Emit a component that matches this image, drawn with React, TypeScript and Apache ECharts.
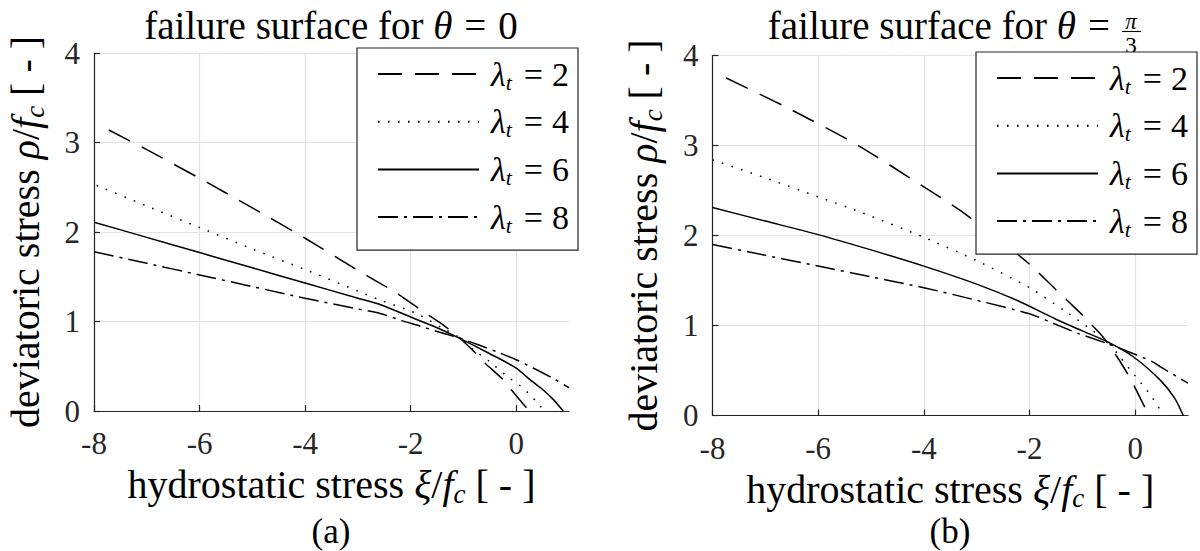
import React, { useEffect, useRef } from "react";
import * as echarts from "echarts";

// ---------- data ----------
const legendNames = ["λt = 2", "λt = 4", "λt = 6", "λt = 8"];
const xTickMin = -8;
const xTickMax = 1;
const yTickMin = 0;
const yTickMax = 4;

// (a) theta = 0
const a_l2: [number, number][] = [[-7.72, 3.14], [-7, 2.92], [-6, 2.6], [-5, 2.27], [-4, 1.93], [-3, 1.57], [-2.3, 1.33], [-1.76, 1.11], [-1.38, 0.96], [-1.1, 0.83], [-0.81, 0.67], [-0.6, 0.54], [-0.25, 0.35], [-0.07, 0.22], [0.1, 0.1], [0.25, 0]];
const a_l4: [number, number][] = [[-7.95, 2.52], [-7, 2.29], [-6, 2.05], [-5, 1.81], [-4, 1.58], [-3, 1.34], [-2.58, 1.24], [-1.89, 1.09], [-1.41, 0.93], [-1.1, 0.83], [-0.8, 0.68], [-0.5, 0.55], [-0.2, 0.4], [0.1, 0.27], [0.26, 0.18], [0.39, 0.1], [0.53, 0]];
const a_l6: [number, number][] = [[-8, 2.11], [-7, 1.94], [-6, 1.77], [-5, 1.6], [-4, 1.43], [-3, 1.26], [-2.58, 1.19], [-2, 1.05], [-1.5, 0.93], [-1.1, 0.82], [-0.5, 0.64], [0, 0.48], [0.26, 0.35], [0.5, 0.24], [0.7, 0.13], [0.89, 0]];
const a_l8: [number, number][] = [[-8, 1.78], [-7, 1.65], [-6, 1.52], [-5, 1.39], [-4, 1.26], [-3, 1.14], [-2.58, 1.09], [-2.17, 1.01], [-1.83, 0.95], [-1.45, 0.88], [-1.1, 0.82], [-0.72, 0.74], [-0.36, 0.66], [0.01, 0.57], [0.32, 0.48], [0.68, 0.37], [1, 0.26]];

// (b) theta = pi/3
const b_l2: [number, number][] = [[-7.74, 3.75], [-6.62, 3.43], [-5.27, 3.01], [-4, 2.54], [-3.34, 2.29], [-2.5, 1.92], [-2, 1.68], [-1.29, 1.28], [-1.04, 1.14], [-0.81, 1.0], [-0.59, 0.86], [-0.34, 0.65], [-0.09, 0.41], [0.04, 0.26], [0.26, 0]];
const b_l4: [number, number][] = [[-8, 2.84], [-7, 2.64], [-6, 2.43], [-5.2, 2.26], [-4, 1.98], [-3, 1.72], [-2, 1.42], [-1.3, 1.15], [-0.8, 0.94], [-0.53, 0.83], [-0.3, 0.66], [0, 0.44], [0.3, 0.22], [0.54, 0]];
const b_l6: [number, number][] = [[-8, 2.31], [-7, 2.16], [-6, 2.01], [-5, 1.84], [-4, 1.66], [-3, 1.46], [-2.24, 1.28], [-1.5, 1.07], [-1, 0.94], [-0.53, 0.82], [-0.03, 0.65], [0.48, 0.39], [0.75, 0.19], [0.91, 0]];
const b_l8: [number, number][] = [[-8, 1.9], [-7, 1.78], [-6, 1.66], [-5, 1.54], [-4, 1.42], [-3, 1.28], [-2, 1.13], [-1.41, 0.99], [-1.07, 0.91], [-0.53, 0.8], [0.04, 0.67], [0.35, 0.59], [0.48, 0.54], [1, 0.36]];

const seriesA = [a_l2, a_l4, a_l6, a_l8];
const seriesB = [b_l2, b_l4, b_l6, b_l8];

// ---------- styles ----------
const FONT = "'Liberation Serif', 'Times New Roman', serif";
const AX = "#262626";
const dashes: (number[] | string)[] = [[24, 13], [1.6, 8.4], "solid", [20, 6, 3, 6]];

const T = 39; // title size
const N = 40; // axis-name size
const K = 31; // tick label size
const L = 34; // legend size

const baseRich = (size: number, eqPad: number[] = [0, 12, 0, 12], lh: number = size + 6) => ({
  r: { fontFamily: FONT, fontSize: size, color: "#000", lineHeight: lh },
  i: { fontFamily: FONT, fontSize: size, fontStyle: "italic", color: "#000", lineHeight: lh },
  e: { fontFamily: FONT, fontSize: size, color: "#000", lineHeight: lh, padding: eqPad },
  s: { fontFamily: FONT, fontSize: Math.round(size * 0.68), fontStyle: "italic", color: "#000", lineHeight: Math.round(size * 0.68), verticalAlign: "bottom" },
});

export default function App() {
  const ref = useRef<HTMLDivElement>(null);
  useEffect(() => {
    if (!ref.current) return;
    const chart = echarts.init(ref.current, undefined, { renderer: "svg" });

    const grids = [
      { left: 94, top: 53, width: 475, height: 358 },
      { left: 712.5, top: 55.5, width: 475.5, height: 360 },
    ];

    const xAxis = grids.map((_, gi) => ({
      type: "value",
      gridIndex: gi,
      min: xTickMin,
      max: xTickMax,
      interval: 2,
      name: "{r|hydrostatic stress }{i|ξ}{r|/}{i|f}{s|c}{r| [ - ]}",
      nameLocation: "middle",
      nameGap: 51,
      nameTextStyle: { fontFamily: FONT, fontSize: N, color: "#000", rich: baseRich(N, [0, 12, 0, 12], N + 5) },
      axisLine: { show: true, onZero: false, lineStyle: { color: AX, width: 1.2 } },
      axisTick: { show: true, inside: true, length: 6, lineStyle: { color: AX, width: 1.2 } },
      axisLabel: {
        fontFamily: FONT, fontSize: K, color: AX, margin: 17,
        showMaxLabel: false,
        formatter: (v: number) => (v > 0 ? "" : String(v)),
      },
      splitLine: { show: true, showMaxLine: false, lineStyle: { color: "#e3e3e3", width: 1.2 } },
    }));

    const yAxis = grids.map((_, gi) => ({
      type: "value",
      gridIndex: gi,
      min: yTickMin,
      max: yTickMax,
      interval: 1,
      name: "{r|deviatoric stress }{i|ρ}{r|/}{i|f}{s|c}{r| [ - ]}",
      nameLocation: "middle",
      nameGap: 46,
      nameRotate: 90,
      nameTextStyle: { fontFamily: FONT, fontSize: N, color: "#000", rich: baseRich(N) },
      axisLine: { show: true, onZero: false, lineStyle: { color: AX, width: 1.2 } },
      axisTick: { show: true, inside: true, length: 6, lineStyle: { color: AX, width: 1.2 } },
      axisLabel: { fontFamily: FONT, fontSize: K, color: AX, margin: 14 },
      splitLine: { show: true, lineStyle: { color: "#e3e3e3", width: 1.2 } },
    }));

    const mkSeries = (sets: [number, number][][], gi: number) =>
      sets.map((d, k) => ({
        name: legendNames[k],
        type: "line",
        xAxisIndex: gi,
        yAxisIndex: gi,
        data: d,
        symbol: "none",
        showSymbol: false,
        smooth: 0.25,
        silent: true,
        lineStyle: { color: "#000", width: 1.5, type: dashes[k] },
        itemStyle: { color: "#000" },
      }));

    const legendFmt = (name: string) => {
      const v = name.split("=")[1].trim();
      return `{g|}{l|λ}{s|t}{e|=}{r|${v}}{z|}`;
    };
    const legendRich = {
      g: { width: 7 },
      z: { width: 6 },
      l: { fontFamily: FONT, fontSize: L, fontStyle: "italic", color: "#000", lineHeight: L + 4 },
      r: { fontFamily: FONT, fontSize: L, color: "#000", lineHeight: L + 4 },
      e: { fontFamily: FONT, fontSize: L, color: "#000", lineHeight: L + 4, padding: [0, 9, 0, 12] },
      s: { fontFamily: FONT, fontSize: 22, fontStyle: "italic", color: "#000", lineHeight: 22, verticalAlign: "bottom" },
    };
    const mkLegend = (left: number, top: number) => ({
      orient: "vertical",
      left,
      top,
      data: legendNames,
      itemWidth: 101,
      itemHeight: 26,
      itemGap: 11.7,
      padding: [9, 9, 14, 20],
      backgroundColor: "#fff",
      borderColor: AX,
      borderWidth: 1.2,
      borderRadius: 0,
      selectedMode: false,
      itemStyle: { color: "rgba(0,0,0,0)", borderColor: "rgba(0,0,0,0)", borderWidth: 0, opacity: 0 },
      formatter: legendFmt,
      textStyle: { fontFamily: FONT, fontSize: L, color: "#000", rich: legendRich },
    });

    chart.setOption({
      animation: false,
      backgroundColor: "#fff",
      grid: grids,
      xAxis,
      yAxis,
      legend: [mkLegend(357, 48), mkLegend(976, 52)],
      series: [...mkSeries(seriesA, 0), ...mkSeries(seriesB, 1)],
      graphic: [
        {
          type: "text",
          x: 331,
          y: 25,
          style: {
            text: "{r|failure surface for }{i|θ}{e|=}{r|0}",
            rich: baseRich(T),
            fontFamily: FONT,
            fontSize: T,
            fill: "#000",
            align: "center",
            verticalAlign: "middle",
          },
        },
        {
          type: "text",
          x: 1116,
          y: 25,
          style: {
            text: "{r|failure surface for }{i|θ}{e|=}",
            rich: baseRich(T, [0, 6, 0, 12]),
            fontFamily: FONT,
            fontSize: T,
            fill: "#000",
            align: "right",
            verticalAlign: "middle",
          },
        },
        {
          type: "text",
          x: 1131,
          y: 21,
          style: { text: "π", fontFamily: FONT, fontSize: 23, fontStyle: "italic", fill: "#000", align: "center", verticalAlign: "middle" },
        },
        {
          type: "line",
          shape: { x1: 1122, y1: 31.5, x2: 1141, y2: 31.5 },
          style: { stroke: "#000", lineWidth: 1.1 },
        },
        {
          type: "text",
          x: 1131,
          y: 45,
          style: { text: "3", fontFamily: FONT, fontSize: 23, fill: "#000", align: "center", verticalAlign: "middle" },
        },
        {
          type: "text",
          x: 331,
          y: 531,
          style: { text: "(a)", fontFamily: FONT, fontSize: 35, fill: "#000", align: "center", verticalAlign: "middle" },
        },
        {
          type: "text",
          x: 950,
          y: 531,
          style: { text: "(b)", fontFamily: FONT, fontSize: 35, fill: "#000", align: "center", verticalAlign: "middle" },
        },
      ],
    });
    return () => chart.dispose();
  }, []);

  return (
    <div
      ref={ref}
      style={{ position: "fixed", left: 0, top: 0, width: 1200, height: 551, background: "#fff" }}
    />
  );
}
